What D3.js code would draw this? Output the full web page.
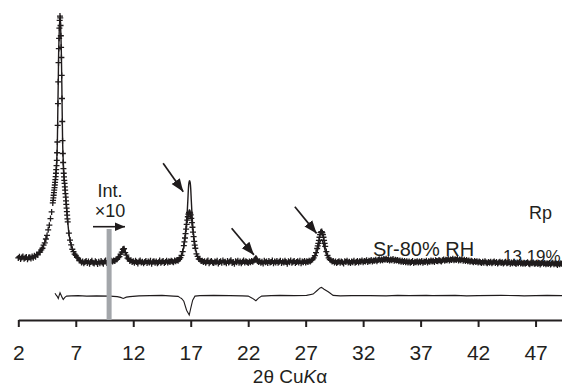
<!DOCTYPE html>
<html>
  <head>
    <meta charset="utf-8">
    <title>Sr-80% RH fit</title>
    <script src="https://d3js.org/d3.v7.min.js"></script>
    <style>
      body { margin: 0; background: #fff; }
      #chart { display: block; font-family: "Liberation Sans", Arial, sans-serif; }
      .axis .domain, .axis line { stroke: #231f20; stroke-width: 2; }
      .axis text { font-size: 21px; fill: #231f20; font-family: "Liberation Sans", Arial, sans-serif; }
      .label { fill: #231f20; }
    </style>
  </head>
  <body>
    <svg id="chart" width="562" height="389"></svg>
    <script>
      // observed counts, even 0.1 deg grid from 2.0 to 49.3 (right of 9.9 deg shown x10)
      const obsStart = 2.0;
      const obsStep = 0.1;
      const obsCounts = [
        47, 52, 43, 49, 53, 44, 48, 51, 42, 49,
        50, 45, 53, 48, 56, 52, 61, 59, 69, 70,
        79, 85, 97, 106, 121, 135, 157, 175, 201, 227,
        262, 302, 342, 392, 500, 810, 975, 915, 670, 420,
        350, 298, 242, 188, 144, 117, 98, 81, 72, 62,
        57, 49, 46, 37, 36, 29, 33, 26, 31, 35,
        27, 33, 24, 31, 36, 28, 25, 34, 30, 23,
        32, 26, 35, 29, 24, 33, 37, 27, 31, 28,
        30, 36, 33, 37, 35, 41, 42, 48, 52, 62,
        70, 81, 83, 68, 58, 46, 43, 35, 38, 31,
        34, 28, 36, 31, 25, 33, 37, 29, 32, 26,
        31, 35, 27, 33, 29, 36, 24, 32, 34, 28,
        33, 26, 30, 37, 28, 32, 35, 27, 31, 36,
        29, 34, 31, 36, 33, 30, 37, 34, 39, 36,
        42, 48, 57, 72, 95, 125, 160, 195, 218, 226,
        215, 185, 148, 112, 85, 63, 53, 43, 41, 35,
        36, 31, 34, 28, 33, 37, 26, 32, 35, 29,
        27, 33, 30, 36, 25, 31, 34, 28, 37, 30,
        32, 26, 35, 29, 33, 38, 27, 31, 24, 34,
        30, 36, 28, 33, 26, 32, 37, 29, 34, 31,
        27, 33, 30, 35, 32, 37, 40, 42, 35, 31,
        34, 28, 32, 25, 36, 30, 33, 27, 35, 29,
        31, 37, 26, 33, 29, 35, 28, 32, 36, 27,
        33, 29, 36, 31, 24, 34, 30, 37, 28, 32,
        35, 27, 31, 34, 29, 36, 26, 33, 30, 35,
        29, 34, 31, 36, 33, 38, 41, 47, 56, 68,
        84, 104, 128, 146, 150, 138, 116, 92, 72, 57,
        47, 41, 38, 33, 35, 29, 33, 27, 31, 34,
        28, 33, 30, 25, 34, 31, 36, 29, 32, 27,
        33, 30, 36, 28, 31, 35, 29, 34, 32, 37,
        30, 35, 33, 38, 31, 36, 34, 39, 33, 37,
        36, 40, 34, 39, 42, 37, 41, 38, 43, 40,
        44, 39, 42, 37, 41, 38, 43, 36, 40, 37,
        39, 34, 37, 32, 36, 31, 35, 30, 34, 29,
        33, 28, 31, 35, 27, 32, 30, 34, 29, 33,
        30, 35, 28, 33, 31, 36, 29, 34, 32, 37,
        33, 36, 31, 38, 35, 34, 39, 36, 33, 38,
        41, 36, 40, 38, 43, 37, 41, 39, 44, 38,
        42, 39, 44, 37, 41, 38, 43, 36, 40, 35,
        39, 34, 37, 32, 36, 33, 30, 35, 31, 34,
        29, 33, 30, 27, 32, 28, 34, 29, 26, 31,
        28, 32, 26, 30, 33, 27, 31, 25, 29, 32,
        27, 30, 25, 29, 32, 26, 28, 31, 24, 29,
        26, 30, 27, 23, 29, 26, 31, 25, 28, 24,
        28, 24, 27, 30, 25, 22, 28, 26, 29, 24,
        25, 28, 23, 27, 21, 26, 29, 24, 27, 22,
        26, 23, 27, 21, 25, 28, 22, 26, 24, 20,
        25, 22, 26, 23
      ];
      // finer observed run over the big low-angle peak, 0.025 deg step
      const fineStart = 5.0;
      const fineStep = 0.025;
      const fineCounts = [
        262, 272, 282, 292, 302, 312, 322, 332, 342, 353,
        365, 378, 392, 408, 428, 458, 500, 565, 650, 735,
        810, 865, 905, 945, 975, 992, 985, 955, 915, 870,
        830, 760, 670, 580, 505, 455, 420, 396, 378, 364,
        350, 338, 325, 312, 298, 285, 270, 256, 242, 228,
        214, 200, 188
      ];
      // a few more observed points on the 17 and 28 deg peaks
      const obsExtra = [
        [16.45, 110], [16.55, 142], [16.65, 178], [16.75, 208], [16.85, 224],
        [16.95, 222], [17.05, 202], [17.15, 167], [17.25, 130], [17.35, 97],
        [28.05, 94], [28.15, 116], [28.25, 138], [28.35, 149], [28.45, 145],
        [28.55, 128], [28.65, 104]
      ];
      // calculated pattern
      const calcCurve = [
        [5.19, 335], [5.3, 390], [5.35, 432], [5.4, 505], [5.45, 660], [5.48, 745],
        [5.5, 820], [5.55, 915], [5.6, 970], [5.63, 985], [5.66, 975], [5.7, 925],
        [5.75, 840], [5.8, 680], [5.85, 515], [5.91, 425], [6.0, 352], [6.1, 300],
        [6.2, 243], [6.3, 189], [6.4, 144], [6.5, 118], [6.6, 97], [6.8, 71],
        [7.0, 55], [7.2, 44], [7.4, 33], [7.6, 30], [8.5, 30], [9.8, 30],
        [10.2, 34], [10.6, 44], [10.8, 55], [11.0, 75], [11.15, 90], [11.3, 74],
        [11.5, 49], [11.7, 38], [12.0, 32], [14.0, 30], [15.5, 33], [16.0, 42],
        [16.3, 70], [16.5, 125], [16.6, 172], [16.7, 230], [16.75, 272], [16.8, 318],
        [16.85, 342], [16.9, 349], [16.95, 342], [17.0, 318], [17.05, 272], [17.1, 228],
        [17.2, 160], [17.3, 116], [17.4, 86], [17.6, 52], [17.8, 40], [18.0, 35],
        [19.0, 31], [22.0, 31], [22.3, 33], [22.5, 40], [22.67, 56], [22.85, 40],
        [23.05, 32], [25.0, 31], [27.0, 31], [27.5, 36], [27.8, 52], [28.0, 72],
        [28.2, 104], [28.3, 115], [28.4, 118], [28.5, 108], [28.7, 76], [28.9, 52],
        [29.1, 41], [29.4, 33], [30.0, 31], [32.5, 33], [34.0, 38], [35.5, 33],
        [37.0, 32], [40.0, 38], [41.5, 33], [44.0, 29], [49.3, 24]
      ];
      // difference (obs - calc), drawn shifted down by diffOffset
      const diffOffset = -100;
      const diffCurve = [
        [5.19, 9], [5.3, 2], [5.4, -4], [5.48, -11], [5.55, 0], [5.63, 11],
        [5.72, 2], [5.8, -6], [5.91, -15], [6.05, -7], [6.2, -2], [6.6, -1],
        [7.2, 0], [7.95, -2], [8.8, -1], [9.97, -2], [10.6, -4], [10.9, -7],
        [11.13, -11], [11.4, -6], [11.71, -4], [12.5, -1], [13.45, 0], [14.5, 1],
        [15.48, -2], [15.9, -3], [16.07, -8], [16.2, -11], [16.4, -22], [16.64, -57],
        [16.87, -76], [17.0, -50], [17.17, -18], [17.37, -2], [17.8, 0], [19.0, 1],
        [20.4, 0], [21.5, -1], [22.0, -2], [22.35, -10], [22.67, -20], [22.9, -10],
        [23.17, -2], [24.0, 0], [24.76, 1], [26.0, 0], [27.08, 1], [27.65, 6],
        [28.0, 20], [28.25, 30], [28.38, 32], [28.6, 25], [28.96, 15], [29.2, 7],
        [29.39, 1], [30.0, -1], [31.0, 0], [32.6, 0], [34.0, -1], [35.0, 1],
        [36.0, 0], [37.5, 1], [38.0, 0], [40.0, 1], [41.0, -1], [42.0, 0],
        [44.0, 1], [45.5, 0], [46.0, -1], [48.0, 1], [49.3, 0]
      ];
      const xTicks = [2, 7, 12, 17, 22, 27, 32, 37, 42, 47];
      const scaleStart = 9.9; // intensity x10 from here

      // build observed point list
      obsData = obsCounts.map(function(c, i) {
        return { t: Math.round((obsStart + i * obsStep) * 1000) / 1000, c: c };
      });
      fineCounts.forEach(function(c, i) {
        obsData.push({ t: Math.round((fineStart + i * fineStep) * 1000) / 1000, c: c });
      });
      obsExtra.forEach(function(d) {
        obsData.push({ t: d[0], c: d[1] });
      });

      chart = d3.select("#chart");
      ink = "#1f1b1c";

      x = d3.scaleLinear().domain([2, 49.3]).range([18.3, 562]);
      y = d3.scaleLinear().domain([0, 1000]).range([270, 14]);

      // arrowheads
      defs = chart.append("defs");
      defs.append("marker")
        .attr("id", "head")
        .attr("markerUnits", "userSpaceOnUse")
        .attr("markerWidth", 14).attr("markerHeight", 12)
        .attr("viewBox", "0 -6 14 12")
        .attr("refX", 13).attr("refY", 0)
        .attr("orient", "auto")
        .append("path").attr("d", "M0,-5L13,0L0,5Z").attr("fill", ink);
      defs.append("marker")
        .attr("id", "headSmall")
        .attr("markerUnits", "userSpaceOnUse")
        .attr("markerWidth", 11).attr("markerHeight", 10)
        .attr("viewBox", "0 -5 11 10")
        .attr("refX", 10).attr("refY", 0)
        .attr("orient", "auto")
        .append("path").attr("d", "M0,-4.2L10,0L0,4.2Z").attr("fill", ink);

      // observed crosses
      crossPath = d3.path();
      obsData.forEach(function(d) {
        px = x(d.t); py = y(d.c);
        crossPath.moveTo(px - 3, py); crossPath.lineTo(px + 3, py);
        crossPath.moveTo(px, py - 3); crossPath.lineTo(px, py + 3);
      });
      chart.append("path")
        .attr("d", crossPath.toString())
        .attr("fill", "none")
        .attr("stroke", ink)
        .attr("stroke-width", 1.3);

      // calculated line
      calcLine = d3.line()
        .x(function(d) { return x(d[0]); })
        .y(function(d) { return y(d[1]); })
        .curve(d3.curveMonotoneX);
      chart.append("path")
        .attr("d", calcLine(calcCurve))
        .attr("fill", "none")
        .attr("stroke", ink)
        .attr("stroke-width", 1.4);

      // difference line
      diffLine = d3.line()
        .x(function(d) { return x(d[0]); })
        .y(function(d) { return y(d[1] + diffOffset); });
      chart.append("path")
        .attr("d", diffLine(diffCurve))
        .attr("fill", "none")
        .attr("stroke", ink)
        .attr("stroke-width", 1.1);

      // x axis
      xAxis = d3.axisBottom(x)
        .tickValues(xTicks)
        .tickSize(7)
        .tickSizeOuter(0)
        .tickPadding(18)
        .tickFormat(d3.format("d"));
      chart.append("g")
        .attr("class", "axis")
        .attr("transform", "translate(0,320)")
        .call(xAxis);

      // x10 marker bar
      chart.append("rect")
        .attr("x", x(scaleStart) - 2.5)
        .attr("y", 229)
        .attr("width", 5)
        .attr("height", 320 - 229)
        .attr("fill", "#a3a6aa");

      chart.append("line")
        .attr("x1", 93).attr("y1", 226.7)
        .attr("x2", 125).attr("y2", 226.7)
        .attr("stroke", ink).attr("stroke-width", 1.6)
        .attr("marker-end", "url(#headSmall)");
      chart.append("text").attr("class", "label")
        .attr("x", 110).attr("y", 197)
        .attr("text-anchor", "middle")
        .style("font-size", "18px")
        .text("Int.");
      chart.append("text").attr("class", "label")
        .attr("x", 110).attr("y", 217)
        .attr("text-anchor", "middle")
        .style("font-size", "18px")
        .text("\u00d710");

      // peak arrows
      arrows = [
        [[14.6, 417], [16.35, 306]],
        [[20.56, 163], [22.5, 59]],
        [[26.06, 247], [27.95, 143]]
      ];
      chart.selectAll(".peakArrow")
        .data(arrows)
        .enter().append("line")
          .attr("class", "peakArrow")
          .attr("x1", function(d) { return x(d[0][0]); })
          .attr("y1", function(d) { return y(d[0][1]); })
          .attr("x2", function(d) { return x(d[1][0]); })
          .attr("y2", function(d) { return y(d[1][1]); })
          .attr("stroke", ink)
          .attr("stroke-width", 1.7)
          .attr("marker-end", "url(#head)");

      // labels
      chart.append("text").attr("class", "label")
        .attr("x", 373).attr("y", 256)
        .style("font-size", "20px")
        .text("Sr-80% RH");
      chart.append("text").attr("class", "label")
        .attr("x", 529).attr("y", 219)
        .style("font-size", "18px")
        .text("Rp");
      chart.append("text").attr("class", "label")
        .attr("x", 503).attr("y", 262)
        .style("font-size", "17px")
        .text("13.19%");

      title = chart.append("text").attr("class", "label")
        .attr("x", 290).attr("y", 383)
        .attr("text-anchor", "middle")
        .style("font-size", "19px");
      title.append("tspan").text("2\u03b8 Cu");
      title.append("tspan").style("font-style", "italic").text("K");
      title.append("tspan").text("\u03b1");
    </script>
  </body>
</html>
